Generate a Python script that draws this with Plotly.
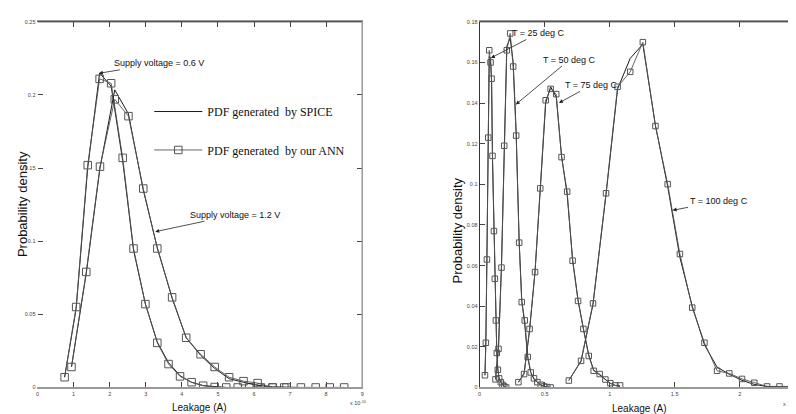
import plotly.graph_objects as go

# ---------------- data (left panel: supply voltage) ----------------
v06_x = [0.75, 1.07, 1.39, 1.72, 2.04, 2.36, 2.66, 2.99, 3.32, 3.63, 3.95, 4.27, 4.59, 4.91, 5.23, 5.55, 5.87, 6.19, 6.52, 6.84]
v06_ann = [0.007, 0.055, 0.152, 0.211, 0.208, 0.157, 0.095, 0.057, 0.0305, 0.016, 0.0076, 0.0036, 0.0012, 0.0003, 0, 0, 0, 0, 0, 0]
v06_spice = [0.007, 0.054, 0.150, 0.215, 0.206, 0.155, 0.094, 0.057, 0.031, 0.017, 0.008, 0.0035, 0.0013, 0.0004, 0, 0, 0, 0, 0, 0]

v12_x = [0.94, 1.35, 1.73, 2.14, 2.52, 2.93, 3.32, 3.73, 4.12, 4.52, 4.91, 5.31, 5.71, 6.10, 6.51, 6.90, 7.30, 7.71, 8.10, 8.50]
v12_ann = [0.014, 0.079, 0.151, 0.197, 0.1855, 0.136, 0.095, 0.0616, 0.034, 0.0227, 0.014, 0.007, 0.0043, 0.003, 0, 0, 0, 0, 0, 0]
v12_spice = [0.014, 0.078, 0.150, 0.2035, 0.187, 0.135, 0.0955, 0.061, 0.034, 0.022, 0.013, 0.006, 0.0035, 0.0015, 0.0004, 0, 0, 0, 0, 0]

# ---------------- data (right panel: temperature) ----------------
t25_x = [0.041, 0.048, 0.056, 0.066, 0.074, 0.084, 0.092, 0.099, 0.110, 0.117, 0.125, 0.132, 0.140, 0.150, 0.163, 0.176, 0.189, 0.204]
t25_ann = [0.006, 0.022, 0.063, 0.123, 0.166, 0.160, 0.152, 0.114, 0.077, 0.0535, 0.033, 0.017, 0.0087, 0.0045, 0.0026, 0.0013, 0.0005, 0.0]
t25_spice = [0.006, 0.023, 0.064, 0.125, 0.163, 0.162, 0.150, 0.112, 0.078, 0.054, 0.032, 0.017, 0.009, 0.0045, 0.0025, 0.0012, 0.0005, 0.0]

t50_x = [0.122, 0.145, 0.168, 0.189, 0.209, 0.235, 0.258, 0.281, 0.304, 0.324, 0.347, 0.370, 0.393, 0.418, 0.444, 0.470, 0.495, 0.520, 0.546]
t50_ann = [0.004, 0.019, 0.059, 0.119, 0.166, 0.1743, 0.158, 0.124, 0.0713, 0.042, 0.033, 0.015, 0.0074, 0.0045, 0.0026, 0.0013, 0.0005, 0.0002, 0.0]
t50_spice = [0.004, 0.020, 0.060, 0.118, 0.168, 0.172, 0.160, 0.126, 0.072, 0.043, 0.031, 0.015, 0.0075, 0.004, 0.0025, 0.0012, 0.0005, 0.0002, 0.0]

t75_x = [0.298, 0.342, 0.384, 0.426, 0.466, 0.508, 0.546, 0.589, 0.630, 0.673, 0.715, 0.757, 0.798, 0.839, 0.877, 0.923, 0.967, 1.005, 1.043, 1.080]
t75_ann = [0.0026, 0.0066, 0.0288, 0.0568, 0.098, 0.1414, 0.147, 0.1444, 0.1134, 0.0964, 0.0624, 0.0426, 0.0288, 0.0155, 0.0082, 0.0066, 0.0039, 0.0021, 0.001, 0.001]
t75_spice = [0.0026, 0.007, 0.028, 0.057, 0.097, 0.140, 0.148, 0.143, 0.114, 0.095, 0.063, 0.043, 0.029, 0.016, 0.0085, 0.006, 0.004, 0.002, 0.001, 0.0005]

t100_x = [0.686, 0.780, 0.872, 0.972, 1.061, 1.158, 1.255, 1.352, 1.446, 1.540, 1.635, 1.729, 1.826, 1.920, 2.018, 2.112, 2.210, 2.306, 2.400]
t100_ann = [0.0034, 0.0131, 0.0414, 0.0956, 0.148, 0.1554, 0.170, 0.1287, 0.1001, 0.0657, 0.0393, 0.022, 0.0082, 0.0069, 0.0042, 0.0023, 0.0005, 0.0005, 0.0005]
t100_spice = [0.0035, 0.013, 0.041, 0.095, 0.147, 0.162, 0.169, 0.129, 0.099, 0.064, 0.040, 0.021, 0.010, 0.0065, 0.0035, 0.0015, 0.0005, 0.0003, 0.0002]

left_xticks = [0, 1, 2, 3, 4, 5, 6, 7, 8, 9]
left_yticks = [0, 0.05, 0.1, 0.15, 0.2, 0.25]
left_yticktext = ["0", "0.05", "0.1", "0.15", "0.2", "0.25"]
right_xticks = [0, 0.5, 1, 1.5, 2]
right_xticktext = ["0", "0.5", "1", "1.5", "2"]
right_yticks = [0, 0.02, 0.04, 0.06, 0.08, 0.1, 0.12, 0.14, 0.16, 0.18]
right_yticktext = ["0", "0.02", "0.04", "0.06", "0.08", "0.1", "0.12", "0.14", "0.16", "0.18"]

SANS = "Liberation Sans, Arial, sans-serif"
SERIF = "Liberation Serif, Times New Roman, serif"
SPICE_C = "#1a1a1a"
ANN_C = "#555555"

fig = go.Figure()


def add_pair(x, spice, ann, xa, ya, msize, legend_first=False):
    fig.add_trace(go.Scatter(
        x=x, y=spice, mode="lines", xaxis=xa, yaxis=ya,
        line=dict(color=SPICE_C, width=1),
        name="PDF generated  by SPICE", showlegend=legend_first, legend="legend"))
    fig.add_trace(go.Scatter(
        x=x, y=ann, mode="lines+markers", xaxis=xa, yaxis=ya,
        line=dict(color=ANN_C, width=0.9),
        marker=dict(symbol="square-open", size=msize, color=ANN_C, line=dict(width=1, color=ANN_C)),
        name="PDF generated  by our ANN", showlegend=legend_first, legend="legend2"))


add_pair(v06_x, v06_spice, v06_ann, "x", "y", 7.5, legend_first=True)
add_pair(v12_x, v12_spice, v12_ann, "x", "y", 7.5)
add_pair(t25_x, t25_spice, t25_ann, "x2", "y2", 5.5)
add_pair(t50_x, t50_spice, t50_ann, "x2", "y2", 5.5)
add_pair(t75_x, t75_spice, t75_ann, "x2", "y2", 5.5)
add_pair(t100_x, t100_spice, t100_ann, "x2", "y2", 5.5)

W, H = 796, 414
tickfont = dict(family=SANS, size=5.5, color="#444")

axis_common = dict(ticks="inside", ticklen=5, tickcolor="#444", tickwidth=1,
                   showgrid=False, zeroline=False, tickfont=tickfont)

fig.update_layout(
    width=W, height=H,
    margin=dict(l=0, r=0, t=0, b=0),
    paper_bgcolor="white", plot_bgcolor="white",
    xaxis=dict(domain=[27.7 / W, 354 / W], range=[0, 9], tickvals=left_xticks,
               ticktext=[str(v) for v in left_xticks], anchor="y",
               showline=True, linecolor="#999", linewidth=2, mirror="ticks", **axis_common),
    yaxis=dict(domain=[(H - 382) / H, (H - 11) / H], range=[0, 0.25], tickvals=left_yticks,
               ticktext=left_yticktext, anchor="x",
               showline=True, linecolor="rgba(0,0,0,0)", linewidth=1, mirror="ticks", **axis_common),
    xaxis2=dict(domain=[472 / W, 1.0], range=[0, (796 - 472) / 130.7], tickvals=right_xticks,
                ticktext=right_xticktext, anchor="y2",
                showline=True, linecolor="#999", linewidth=2, mirror="ticks", **axis_common),
    yaxis2=dict(domain=[(H - 382) / H, (H - 11) / H], range=[0, 0.18], tickvals=right_yticks,
                ticktext=right_yticktext, anchor="x2",
                showline=True, linecolor="#333", linewidth=1, mirror="ticks", **axis_common),
    legend=dict(x=140 / W, y=1 - 102 / H, xanchor="left", yanchor="middle",
                bgcolor="rgba(0,0,0,0)", borderwidth=0, itemwidth=48,
                font=dict(family=SERIF, size=12, color="#111")),
    legend2=dict(x=140 / W, y=1 - 141 / H, xanchor="left", yanchor="middle",
                 bgcolor="rgba(0,0,0,0)", borderwidth=0, itemwidth=48,
                 font=dict(family=SERIF, size=12, color="#111")),
    showlegend=True,
)

# box borders (top dark lines, right border of left panel)
shapes = [
    dict(type="line", xref="x domain", yref="y domain", x0=0, x1=1, y0=1, y1=1,
         line=dict(color="#333", width=1)),
    dict(type="line", xref="x domain", yref="y domain", x0=1, x1=1, y0=0, y1=1,
         line=dict(color="#999", width=1.5)),
    dict(type="line", xref="x2 domain", yref="y2 domain", x0=0, x1=1, y0=1, y1=1,
         line=dict(color="#333", width=1)),
]
fig.update_layout(shapes=shapes)

afont = dict(family=SANS, size=9, color="#111")
arrow = dict(showarrow=True, arrowhead=2, arrowsize=1, arrowwidth=0.8, arrowcolor="#222", standoff=0)
annotations = [
    dict(x=1.70, y=0.2148, xref="x", yref="y", ax=60, ay=-10, text="Supply voltage = 0.6 V", font=afont, **arrow),
    dict(x=3.26, y=0.1065, xref="x", yref="y", ax=80, ay=-17, text="Supply voltage = 1.2 V", font=afont, **arrow),
    dict(x=0.0865, y=0.1622, xref="x2", yref="y2", ax=48, ay=-25, text="T = 25 deg C", font=afont, **arrow),
    dict(x=0.278, y=0.1393, xref="x2", yref="y2", ax=54, ay=-45, text="T = 50 deg C", font=afont, **arrow),
    dict(x=0.61, y=0.1401, xref="x2", yref="y2", ax=33, ay=-18, text="T = 75 deg C", font=afont, **arrow),
    dict(x=1.484, y=0.0872, xref="x2", yref="y2", ax=46, ay=-9, text="T = 100 deg C", font=afont, **arrow),
    # axis titles
    dict(x=12 / W, y=1 - 196 / H, xref="paper", yref="paper", xanchor="center", yanchor="middle",
         text="Probability density", textangle=-90,
         showarrow=False, font=dict(family=SANS, size=13, color="#111")),
    dict(x=450 / W, y=1 - 223 / H, xref="paper", yref="paper", xanchor="center", yanchor="middle",
         text="Probability density", textangle=-90,
         showarrow=False, font=dict(family=SANS, size=13, color="#111")),
    dict(x=190 / W, y=1 - 402 / H, xref="paper", yref="paper", xanchor="center", yanchor="middle",
         text="Leakage (A)", showarrow=False, font=dict(family=SANS, size=10, color="#111")),
    dict(x=632 / W, y=1 - 403 / H, xref="paper", yref="paper", xanchor="center", yanchor="middle",
         text="Leakage (A)", showarrow=False, font=dict(family=SANS, size=10, color="#111")),
    dict(x=340 / W, y=1 - 398 / H, xref="paper", yref="paper", text="x 10<sup>-10</sup>",
         xanchor="left", yanchor="middle",
         showarrow=False, font=dict(family=SANS, size=5.5, color="#444")),
    dict(x=775 / W, y=1 - 399 / H, xref="paper", yref="paper", text="x 10<sup>-9</sup>",
         xanchor="left", yanchor="middle",
         showarrow=False, font=dict(family=SANS, size=5.5, color="#444")),
]
fig.update_layout(annotations=annotations)

fig.write_html("out.html")
